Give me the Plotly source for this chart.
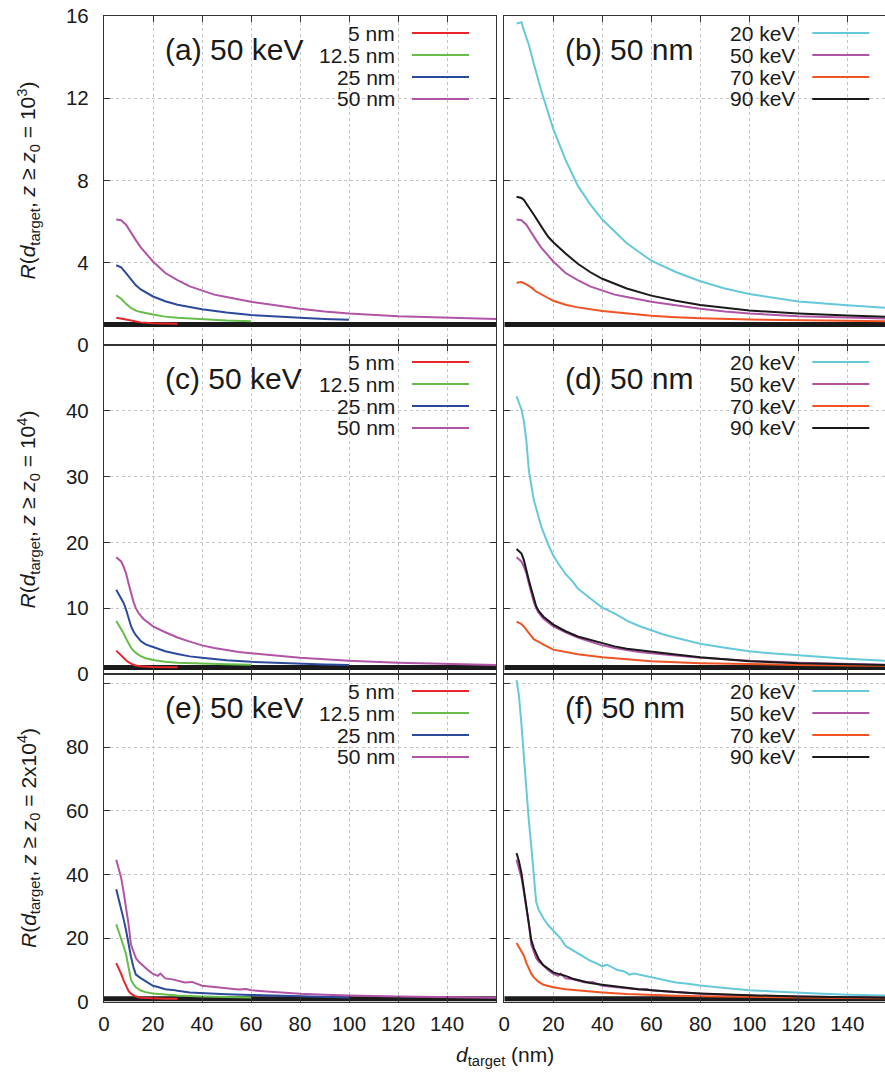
import plotly.graph_objects as go

# ---------------- data ----------------
# Panel (a): 50 keV, z0 = 1e3, various target sizes
D_A5 = [5, 7, 9, 11, 13, 15, 20, 25, 30]
R_A5 = [1.32, 1.29, 1.24, 1.19, 1.14, 1.10, 1.06, 1.04, 1.03]
D_A12 = [5, 7, 9, 11, 13, 15, 20, 25, 30, 40, 50, 60]
R_A12 = [2.41, 2.25, 2.00, 1.80, 1.67, 1.60, 1.48, 1.38, 1.32, 1.24, 1.19, 1.16]
D_A25 = [5, 7, 9, 11, 13, 15, 20, 25, 30, 40, 50, 60, 70, 80, 90, 100]
R_A25 = [3.88, 3.78, 3.50, 3.17, 2.90, 2.70, 2.36, 2.13, 1.96, 1.74, 1.58, 1.46, 1.38, 1.32, 1.27, 1.23]
D_A50 = [5, 7, 9, 11, 13, 15, 20, 25, 30, 35, 40, 45, 50, 60, 70, 80, 90, 100, 120, 140, 160]
R_A50 = [6.10, 6.07, 5.85, 5.45, 5.10, 4.75, 4.06, 3.50, 3.15, 2.85, 2.65, 2.45, 2.33, 2.10, 1.93, 1.76, 1.63, 1.53, 1.40, 1.32, 1.27]

# Panel (b): 50 nm, z0 = 1e3, various energies (50 keV curve = D_A50/R_A50)
D_B20 = [5, 7, 8, 10, 12, 15, 20, 25, 30, 35, 40, 50, 60, 70, 80, 90, 100, 120, 140, 155.4]
R_B20 = [15.63, 15.70, 15.30, 14.60, 13.70, 12.40, 10.50, 9.00, 7.75, 6.85, 6.10, 4.95, 4.10, 3.55, 3.10, 2.75, 2.48, 2.12, 1.93, 1.81]
D_B70 = [5, 7, 9, 11, 13, 15, 20, 25, 30, 40, 50, 60, 70, 80, 100, 120, 140, 155.4]
R_B70 = [3.03, 3.06, 2.95, 2.80, 2.60, 2.46, 2.15, 1.96, 1.83, 1.65, 1.52, 1.42, 1.35, 1.30, 1.24, 1.20, 1.18, 1.16]
D_B90 = [5, 7, 8, 9, 10, 12, 14, 16, 18, 20, 25, 30, 35, 40, 50, 60, 70, 80, 100, 120, 140, 155.4]
R_B90 = [7.21, 7.15, 7.05, 6.90, 6.70, 6.35, 5.95, 5.60, 5.25, 5.00, 4.45, 3.95, 3.55, 3.22, 2.75, 2.40, 2.15, 1.95, 1.68, 1.53, 1.43, 1.37]

# Panel (c): 50 keV, z0 = 1e4
D_C5 = [5, 6, 7, 8, 9, 10, 11, 12, 13, 15, 20, 25, 30]
R_C5 = [3.55, 3.15, 2.80, 2.45, 2.10, 1.80, 1.55, 1.40, 1.30, 1.18, 1.08, 1.04, 1.02]
D_C12 = [5, 6, 7, 8, 9, 10, 11, 12, 13, 15, 17, 20, 25, 30, 40, 50, 60]
R_C12 = [8.07, 7.50, 6.90, 6.20, 5.40, 4.60, 4.00, 3.55, 3.20, 2.70, 2.40, 2.12, 1.85, 1.70, 1.55, 1.47, 1.42]
D_C25 = [5, 6, 7, 8, 9, 10, 11, 12, 13, 15, 17, 20, 25, 30, 35, 40, 45, 50, 60, 70, 80, 90, 100]
R_C25 = [12.8, 12.2, 11.6, 10.8, 9.8, 8.6, 7.3, 6.5, 5.9, 5.0, 4.5, 4.1, 3.45, 3.05, 2.68, 2.48, 2.25, 2.10, 1.85, 1.68, 1.55, 1.45, 1.37]
D_C50 = [5, 6, 7, 8, 9, 10, 11, 12, 13, 14, 16, 18, 20, 25, 30, 35, 40, 45, 50, 55, 60, 70, 80, 90, 100, 120, 140, 160]
R_C50 = [17.76, 17.4, 17.1, 16.3, 15.3, 13.8, 12.3, 11.0, 10.0, 9.3, 8.4, 7.8, 7.25, 6.35, 5.55, 4.92, 4.35, 3.95, 3.62, 3.35, 3.15, 2.80, 2.48, 2.25, 2.00, 1.70, 1.50, 1.38]

# Panel (d): 50 nm, z0 = 1e4 (50 keV curve = D_C50/R_C50)
D_D20 = [5, 7, 8, 9, 10, 11, 12, 13, 15, 18, 20, 22, 25, 28, 30, 35, 40, 45, 50, 55, 60, 65, 70, 80, 90, 100, 110, 120, 140, 155.4]
R_D20 = [42.2, 40.2, 38.4, 35.5, 31.0, 28.5, 26.5, 25.2, 22.5, 19.6, 18.0, 16.8, 15.2, 14.0, 13.0, 11.5, 10.1, 9.2, 8.1, 7.3, 6.6, 6.0, 5.5, 4.6, 4.0, 3.45, 3.1, 2.8, 2.3, 2.0]
D_D70 = [5, 7, 8, 9, 10, 11, 12, 14, 16, 20, 25, 30, 40, 50, 60, 80, 100, 120, 140, 155.4]
R_D70 = [7.96, 7.60, 7.20, 6.70, 6.20, 5.70, 5.30, 4.90, 4.45, 3.70, 3.30, 3.00, 2.55, 2.20, 1.95, 1.65, 1.47, 1.37, 1.30, 1.27]
D_D90 = [5, 7, 8, 9, 10, 11, 12, 13, 14, 16, 20, 25, 30, 35, 40, 45, 50, 55, 60, 70, 80, 100, 120, 140, 155.4]
R_D90 = [18.98, 18.3, 17.3, 16.0, 14.3, 12.9, 11.4, 10.3, 9.6, 8.7, 7.5, 6.5, 5.7, 5.2, 4.7, 4.2, 3.85, 3.6, 3.4, 2.95, 2.55, 1.95, 1.62, 1.45, 1.35]

# Panel (e): 50 keV, z0 = 2x1e4
D_E5 = [5, 6, 7, 8, 9, 10, 11, 12, 13, 15, 20, 25, 30]
R_E5 = [12.2, 10.6, 8.8, 6.8, 4.9, 3.5, 2.6, 2.0, 1.7, 1.35, 1.12, 1.05, 1.02]
D_E12 = [5, 6, 7, 8, 9, 10, 11, 12, 13, 15, 17, 20, 25, 30, 40, 50, 60]
R_E12 = [24.4, 22.3, 20.0, 17.5, 15.0, 11.0, 7.0, 5.6, 4.6, 3.6, 3.1, 2.7, 2.25, 2.0, 1.7, 1.5, 1.38]
D_E25 = [5, 6, 7, 8, 9, 10, 11, 12, 13, 15, 17, 20, 22, 25, 28, 30, 35, 40, 45, 50, 60, 70, 80, 90, 100]
R_E25 = [35.4, 32.5, 29.5, 26.0, 22.5, 18.2, 14.3, 11.0, 8.6, 7.5, 6.5, 5.1, 4.7, 4.0, 3.8, 3.5, 3.0, 2.75, 2.6, 2.45, 2.2, 2.0, 1.8, 1.6, 1.45]
D_E50 = [5, 6, 7, 8, 9, 10, 11, 12, 13, 14, 16, 18, 20, 22, 23, 25, 28, 30, 33, 36, 38, 40, 45, 50, 55, 58, 60, 65, 70, 80, 90, 100, 120, 140, 160]
R_E50 = [44.6, 42.0, 39.0, 34.5, 30.0, 24.5, 18.0, 15.5, 13.8, 12.8, 11.3, 10.0, 8.8, 8.2, 8.9, 7.4, 7.1, 6.8, 6.15, 6.3, 5.8, 5.1, 4.7, 4.2, 3.9, 4.05, 3.7, 3.4, 3.1, 2.6, 2.3, 2.0, 1.7, 1.5, 1.3]

# Panel (f): 50 nm, z0 = 2x1e4 (50 keV curve = D_E50/R_E50)
D_F20 = [5, 6, 7, 8, 9, 10, 11, 12, 13, 14, 16, 18, 20, 22, 23, 25, 28, 31, 35, 38, 40, 42, 46, 49, 51, 53, 57, 60, 65, 70, 75, 80, 90, 100, 110, 120, 130, 140, 155.4]
R_F20 = [101, 96, 87, 77, 65, 57, 49, 40, 31.5, 29, 26.2, 24, 22.3, 20.8, 20, 17.6, 16.2, 14.8, 13, 12, 11.2, 11.7, 10.1, 9.6, 8.6, 8.9, 8.2, 7.8, 6.9, 6.1, 5.75, 5.2, 4.4, 3.7, 3.3, 2.85, 2.6, 2.3, 2.0]
D_F70 = [5, 6, 7, 8, 9, 10, 11, 12, 13, 14, 16, 20, 25, 30, 40, 50, 60, 70, 80, 100, 120, 140, 155.4]
R_F70 = [18.5, 17.3, 16.0, 14.5, 12.3, 10.4, 8.9, 7.8, 7.0, 6.3, 5.4, 4.6, 4.0, 3.6, 3.0, 2.5, 2.15, 1.95, 1.8, 1.55, 1.38, 1.25, 1.18]
D_F90 = [5, 6, 7, 8, 9, 10, 11, 12, 13, 14, 16, 18, 20, 23, 25, 28, 30, 35, 40, 45, 50, 55, 60, 65, 70, 80, 100, 120, 140, 155.4]
R_F90 = [46.7, 44.1, 40.4, 35.5, 30.5, 24.5, 19.5, 17.0, 15.0, 13.5, 11.5, 10.3, 9.3, 8.6, 8.2, 7.3, 6.9, 5.95, 5.4, 4.9, 4.4, 4.0, 3.7, 3.34, 3.1, 2.7, 2.1, 1.75, 1.5, 1.3]

REF_LEVEL = 1.0
REF_D = [0, 160]

SIZE_LABELS = ["5 nm", "12.5 nm", "25 nm", "50 nm"]
ENERGY_LABELS = ["20 keV", "50 keV", "70 keV", "90 keV"]
PANEL_TITLES = ["(a) 50 keV", "(b) 50 nm", "(c) 50 keV", "(d) 50 nm", "(e) 50 keV", "(f) 50 nm"]
Y_TICKS = [[0, 4, 8, 12, 16], [0, 10, 20, 30, 40], [0, 20, 40, 60, 80]]
Y_EXTRA_TICKS = [[], [], [100]]   # unlabelled tick + grid line
Y_MAX = [16, 50, 102.9]
Z0_TEXT = ["10<sup>3</sup>", "10<sup>4</sup>", "2x10<sup>4</sup>"]
X_TICKS = [0, 20, 40, 60, 80, 100, 120, 140]

# ---------------- styling / layout ----------------
RED, GREEN, BLUE, PURPLE = "#e8262b", "#67bd49", "#2c4a9c", "#b254a6"
CYAN, ORANGE, BLACK = "#66c9da", "#f25324", "#1a1a1a"
FONT = "Liberation Sans, Arial, sans-serif"
TXT = "#1a1a1a"

W, H = 885, 1073
ML, MR, MT, MB = 104, 0, 16, 71
PW, PH = W - ML - MR, H - MT - MB


def px_x(x):
    return (x - ML) / PW


def px_y(y):
    return (H - MB - y) / PH


COLS = [(104, 496), (504.3, 885)]
ROWS = [(16, 345), (345, 674), (674, 1002)]
X_MAX = [160, (885 - 504.3) / 2.45]

series = [
    [(D_A5, R_A5, RED), (D_A12, R_A12, GREEN), (D_A25, R_A25, BLUE), (D_A50, R_A50, PURPLE)],
    [(D_B20, R_B20, CYAN), (D_A50, R_A50, PURPLE), (D_B70, R_B70, ORANGE), (D_B90, R_B90, BLACK)],
    [(D_C5, R_C5, RED), (D_C12, R_C12, GREEN), (D_C25, R_C25, BLUE), (D_C50, R_C50, PURPLE)],
    [(D_D20, R_D20, CYAN), (D_C50, R_C50, PURPLE), (D_D70, R_D70, ORANGE), (D_D90, R_D90, BLACK)],
    [(D_E5, R_E5, RED), (D_E12, R_E12, GREEN), (D_E25, R_E25, BLUE), (D_E50, R_E50, PURPLE)],
    [(D_F20, R_F20, CYAN), (D_E50, R_E50, PURPLE), (D_F70, R_F70, ORANGE), (D_F90, R_F90, BLACK)],
]

fig = go.Figure()
layout = {}
shapes = []
annotations = []

for i in range(6):
    row, col = divmod(i, 2)
    n = i + 1
    sfx = "" if n == 1 else str(n)
    xl, xr = COLS[col]
    yt, yb = ROWS[row]

    # reference level (thick line at R = 1)
    fig.add_trace(go.Scatter(x=REF_D, y=[REF_LEVEL, REF_LEVEL], mode="lines",
                             line=dict(color=BLACK, width=5), xaxis="x" + sfx, yaxis="y" + sfx,
                             showlegend=False, hoverinfo="skip"))
    for (dx, ry, c) in series[i]:
        fig.add_trace(go.Scatter(x=dx, y=ry, mode="lines", line=dict(color=c, width=2),
                                 xaxis="x" + sfx, yaxis="y" + sfx, showlegend=False))

    common = dict(showline=True, linecolor="#333", linewidth=1.3, ticks="inside", ticklen=6,
                  tickwidth=1.2, tickcolor="#333", showgrid=True, gridcolor="#c4c4c4",
                  griddash="dot", gridwidth=1, zeroline=False,
                  tickfont=dict(family=FONT, size=20.5, color=TXT))
    xa = dict(common, domain=[px_x(xl), px_x(xr)], range=[0, X_MAX[col]], anchor="y" + sfx,
              mirror="allticks", ticklabelstandoff=3, tickvals=X_TICKS,
              ticktext=[str(v) for v in X_TICKS], showticklabels=(row == 2))
    ya = dict(common, domain=[px_y(yb), px_y(yt)], range=[0, Y_MAX[row]], anchor="x" + sfx,
              tickvals=Y_TICKS[row], ticktext=[str(v) for v in Y_TICKS[row]], ticklabelstandoff=10)
    if Y_EXTRA_TICKS[row]:
        ya["minor"] = dict(tickvals=Y_EXTRA_TICKS[row], ticks="inside", ticklen=6, tickwidth=1.2,
                           tickcolor="#333", showgrid=True, gridcolor="#c4c4c4", griddash="dot",
                           gridwidth=1)
    if col == 0:
        ya.update(mirror="allticks", showticklabels=True)
    else:
        ya.update(mirror=False, showticklabels=False)
    layout["xaxis" + sfx] = xa
    layout["yaxis" + sfx] = ya

    # opaque key box (covers grid)
    bx0, bx1 = (201, 371) if col == 0 else (214, 378)
    shapes.append(dict(type="rect", xref="paper", yref="paper", layer="between",
                       x0=px_x(xl + bx0), x1=px_x(xl + bx1), y0=px_y(yt + 88), y1=px_y(yt + 1),
                       fillcolor="white", line=dict(width=0)))
    labels = SIZE_LABELS if col == 0 else ENERGY_LABELS
    for k, (lab, (dx, ry, c)) in enumerate(zip(labels, series[i])):
        yy = yt + 17 + 22 * k
        annotations.append(dict(text=lab, xref="paper", yref="paper", x=px_x(xl + 293), y=px_y(yy),
                                xanchor="right", yanchor="middle", showarrow=False,
                                font=dict(family=FONT, size=21, color=TXT)))
        shapes.append(dict(type="line", xref="paper", yref="paper", x0=px_x(xl + 308), x1=px_x(xl + 365),
                           y0=px_y(yy), y1=px_y(yy), line=dict(color=c, width=2)))
    annotations.append(dict(text=PANEL_TITLES[i], xref="paper", yref="paper", x=px_x(xl + 59),
                            y=px_y(yt + 33), xanchor="left", yanchor="middle", showarrow=False,
                            font=dict(family=FONT, size=30, color=TXT)))

for row in range(3):
    yt, yb = ROWS[row]
    annotations.append(dict(
        text="<i>R</i>(<i>d</i><sub>target</sub>, <i>z</i> ≥ <i>z</i><sub>0</sub> = " + Z0_TEXT[row] + ")",
        xref="paper", yref="paper", x=px_x(28), y=px_y((yt + yb) / 2), textangle=-90,
        xanchor="center", yanchor="middle", showarrow=False,
        font=dict(family=FONT, size=21, color=TXT)))

annotations.append(dict(text="<i>d</i><sub>target</sub> (nm)", xref="paper", yref="paper",
                        x=px_x(505), y=px_y(1056), xanchor="center", yanchor="middle",
                        showarrow=False, font=dict(family=FONT, size=21, color=TXT)))

fig.update_layout(**layout)
fig.update_layout(width=W, height=H, margin=dict(l=ML, r=MR, t=MT, b=MB, pad=0),
                  paper_bgcolor="white", plot_bgcolor="white", showlegend=False,
                  shapes=shapes, annotations=annotations,
                  font=dict(family=FONT, color=TXT))

fig.write_html("out.html", config={"displayModeBar": False}, post_script=(
    "document.documentElement.style.margin='0';document.documentElement.style.padding='0';"
    "document.body.style.margin='0';document.body.style.padding='0';"
    "document.documentElement.style.overflow='hidden';document.body.style.overflow='hidden';"))
